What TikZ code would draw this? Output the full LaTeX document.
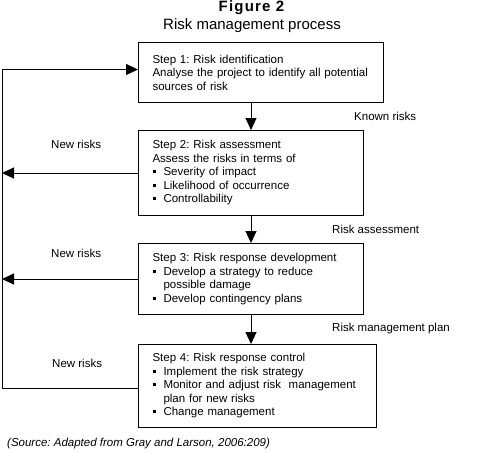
\documentclass[tikz,border=0pt]{standalone}
\usepackage{fontspec}
\setmainfont{Liberation Sans}
\usepackage{tikz}
\usetikzlibrary{arrows.meta,calc}
\definecolor{INK}{HTML}{000000}
\newcommand{\bit}{\makebox[11pt][l]{\rule[2.6pt]{3pt}{3pt}}}
\newcommand{\ind}{\hspace*{11pt}}
\frenchspacing
\begin{document}
\begin{tikzpicture}[x=1pt,y=-1pt]
\tikzset{box/.style={draw=INK,line width=1pt,anchor=north west,align=left,inner xsep=14pt,inner ysep=2pt,
 font=\fontsize{11.5}{13.5}\selectfont},
 arr/.style={-{Triangle[length=12pt,width=11pt]},line width=1pt,INK},lnk/.style={line width=1pt,INK},
 lbl/.style={anchor=west,inner sep=0pt,font=\fontsize{11.5}{13.5}\selectfont}}
\useasboundingbox (0,0) rectangle (489,451);
\node[font=\fontsize{15}{18}\selectfont\bfseries\addfontfeature{LetterSpace=8}] (fig) at (251.5,7.5) {Figure 2};
\node[font=\fontsize{15}{18}\selectfont] (ttl) at (252,25.5) {Risk management process};
\node[box,minimum width=245pt,minimum height=60pt,text width=217pt] (s1) at (138,42)
 {Step 1: Risk identification\\Analyse the project to identify all potential\\sources of risk};
\node[box,minimum width=225pt,minimum height=85pt,text width=197pt] (s2) at (138,130)
 {Step 2: Risk assessment\\Assess the risks in terms of\\\bit Severity of impact\\\bit Likelihood of occurrence\\\bit Controllability};
\node[box,minimum width=225pt,minimum height=71pt,text width=197pt] (s3) at (138,243)
 {Step 3: Risk response development\\\bit Develop a strategy to reduce\\\ind possible damage\\\bit Develop contingency plans};
\node[box,minimum width=238pt,minimum height=83pt,text width=210pt] (s4) at (138,344)
 {Step 4: Risk response control\\\bit Implement the risk strategy\\\bit Monitor and adjust risk\ \ management\\\ind plan for new risks\\\bit Change management};
\node[lbl] (k1) at (354,116) {Known risks};
\node[lbl] (k2) at (332,229) {Risk assessment};
\node[lbl] (k3) at (332,329) {Risk management plan};
\node[lbl] (n1) at (51,144) {New risks};
\node[lbl] (n2) at (51,253) {New risks};
\node[lbl] (n3) at (52,363) {New risks};
\node[lbl,font=\fontsize{11.5}{13.5}\selectfont\itshape] (src) at (7,444) {(Source: Adapted from Gray and Larson, 2006:209)};
\coordinate (rail) at (2,0);
\coordinate (in1) at ([yshift=3pt]s1.west);
\draw[arr] (s1.south -| s2.north) -- (s2.north);
\draw[arr] (s2.south) -- (s3.north);
\draw[arr] (s3.south) -- (s3.south |- s4.north);
\draw[arr] (s2.west) -- (s2.west -| rail);
\draw[arr] (s3.west) -- (s3.west -| rail);
\draw[arr] ([yshift=-2pt]s4.west) -| (in1 -| rail) -- (in1);
\end{tikzpicture}
\end{document}
